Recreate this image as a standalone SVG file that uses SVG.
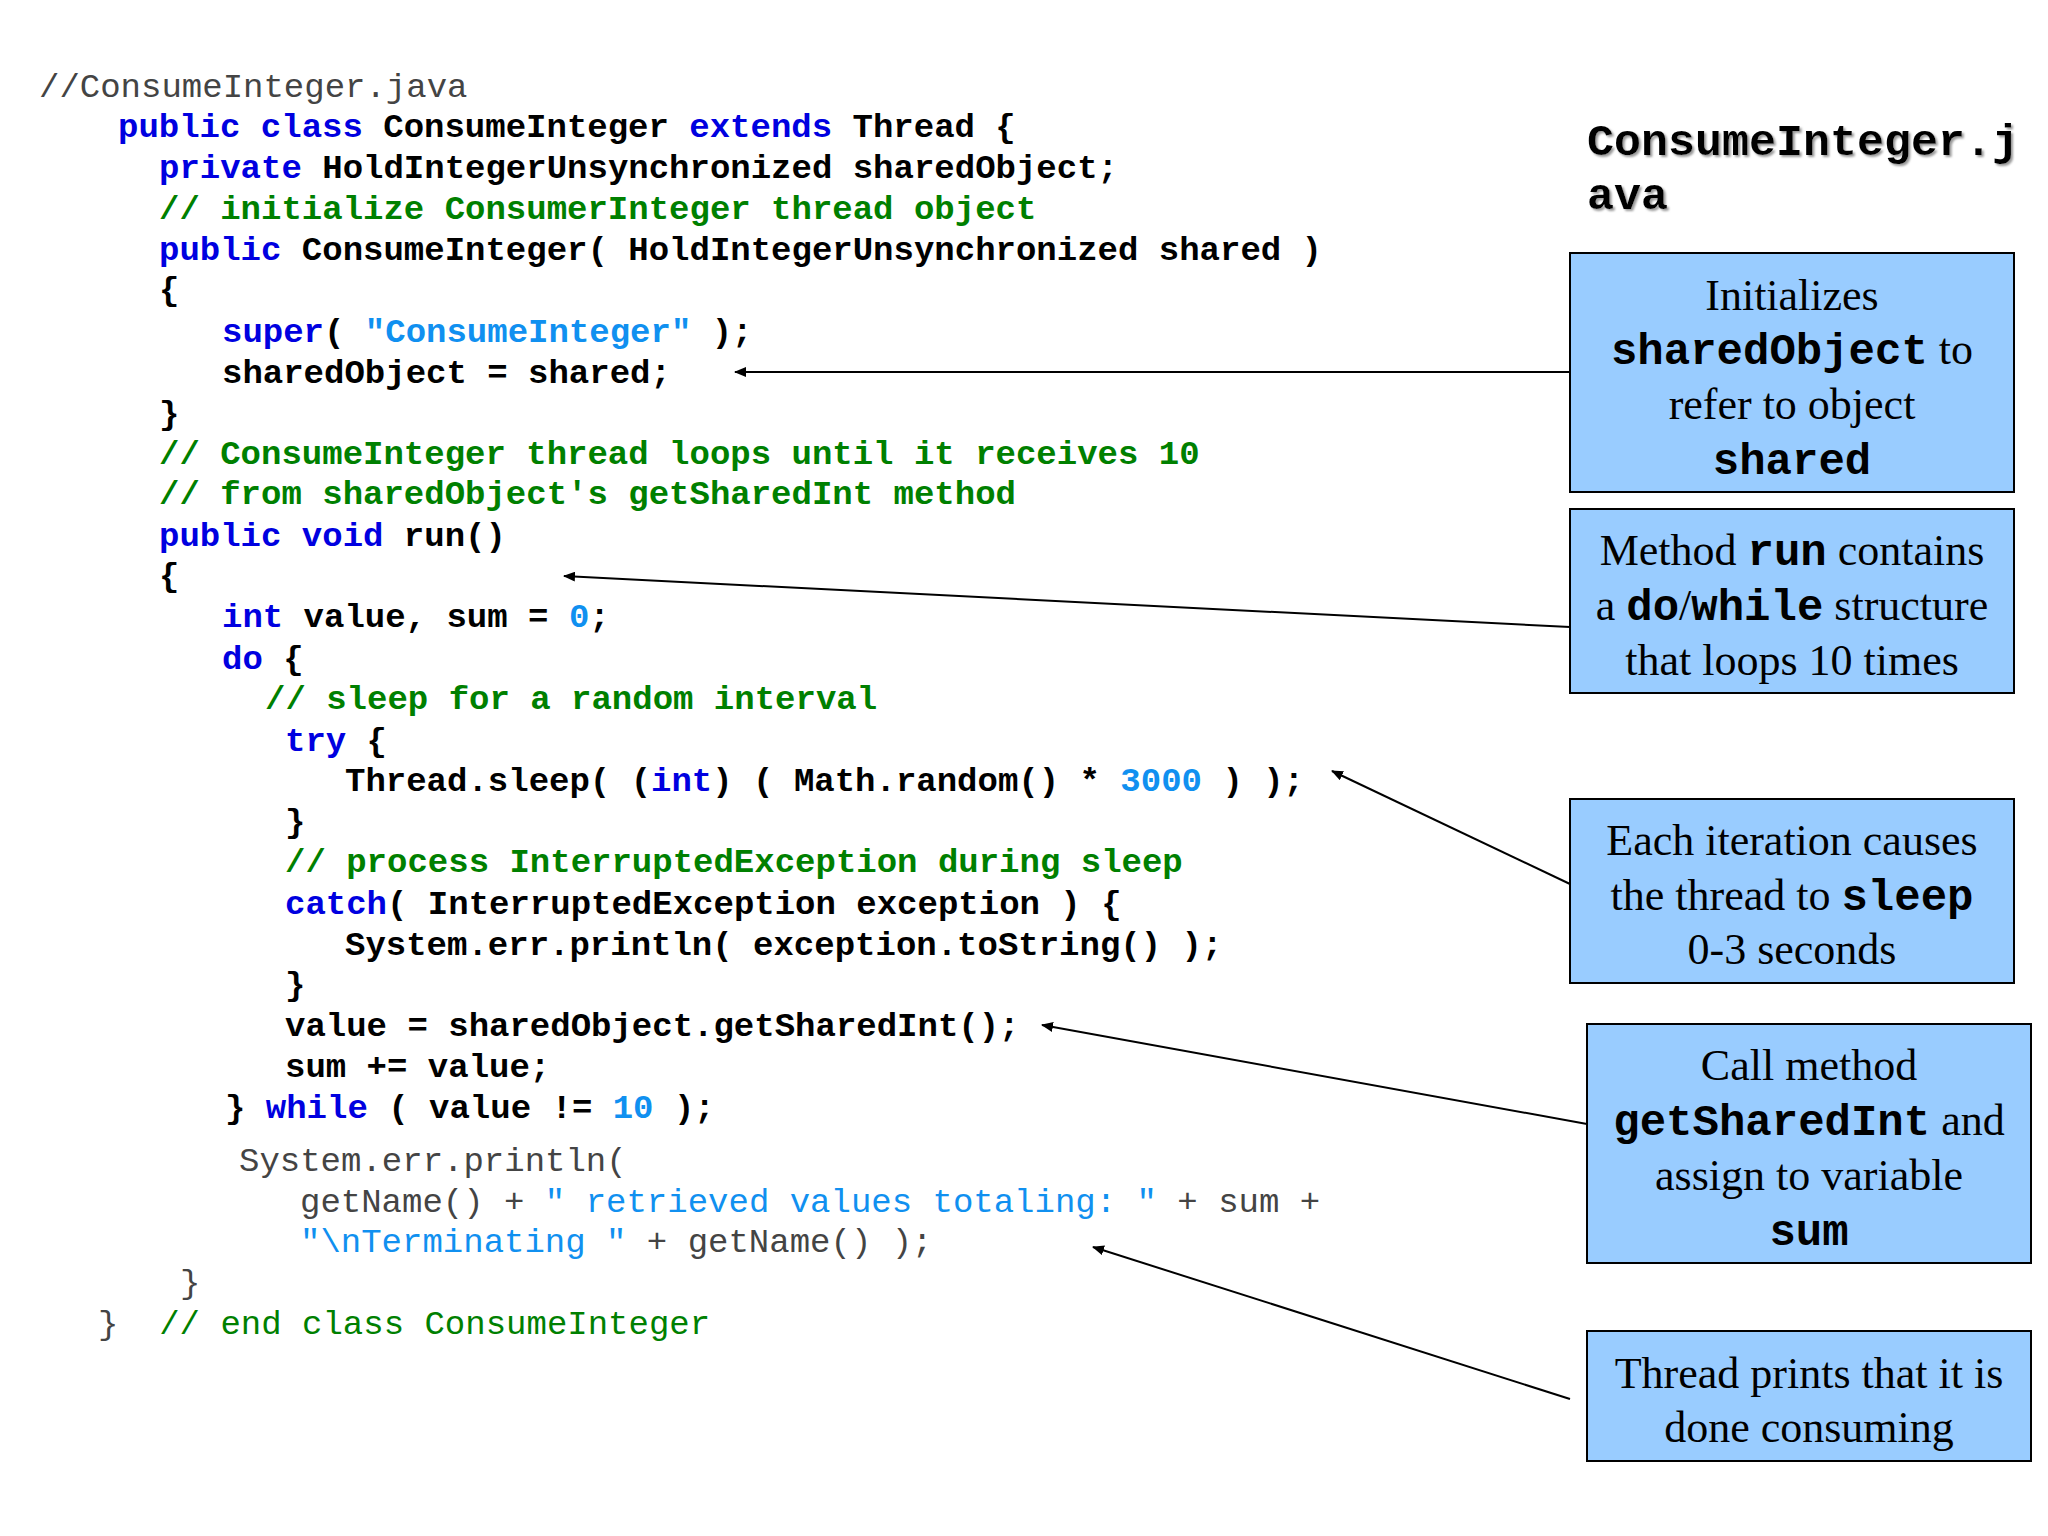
<svg xmlns="http://www.w3.org/2000/svg" width="2048" height="1536" viewBox="0 0 2048 1536">
<defs>
<marker id="ah" markerWidth="12" markerHeight="10" refX="11" refY="5" orient="auto" markerUnits="userSpaceOnUse"><path d="M0,0 L12,5 L0,10 z" fill="#000"/></marker>
<filter id="sh"><feDropShadow dx="2" dy="2" stdDeviation="1" flood-color="#999"/></filter>
</defs>
<style>
.c{font-family:"Liberation Mono",monospace;font-size:34px;font-weight:bold;fill:#000;white-space:pre}
.g{font-family:"Liberation Mono",monospace;font-size:34px;fill:#444;white-space:pre}
.k{fill:#0000e0}.m{fill:#008000}.s{fill:#1090f0}
.box{fill:#99ccff;stroke:#000;stroke-width:2}
.t{font-family:"Liberation Serif",serif;font-size:44px;fill:#000;text-anchor:middle}
.b{font-family:"Liberation Mono",monospace;font-weight:bold}
.ln{stroke:#000;stroke-width:2;fill:none;marker-end:url(#ah)}
</style>
<rect width="2048" height="1536" fill="#fff"/>
<g id="code">
<text class="g" x="39" y="97">//ConsumeInteger.java</text>
<text class="c" x="118" y="137"><tspan class="k">public class</tspan> ConsumeInteger <tspan class="k">extends</tspan> Thread {</text>
<text class="c" x="159" y="178"><tspan class="k">private</tspan> HoldIntegerUnsynchronized sharedObject;</text>
<text class="c m" x="159" y="219">// initialize ConsumerInteger thread object</text>
<text class="c" x="159" y="260"><tspan class="k">public</tspan> ConsumeInteger( HoldIntegerUnsynchronized shared )</text>
<text class="c" x="159" y="300">{</text>
<text class="c" x="222" y="342"><tspan class="k">super</tspan>( <tspan class="s">"ConsumeInteger"</tspan> );</text>
<text class="c" x="222" y="383">sharedObject = shared;</text>
<text class="c" x="159" y="424">}</text>
<text class="c m" x="159" y="464">// ConsumeInteger thread loops until it receives 10</text>
<text class="c m" x="159" y="504">// from sharedObject's getSharedInt method</text>
<text class="c" x="159" y="546"><tspan class="k">public void</tspan> run()</text>
<text class="c" x="159" y="586">{</text>
<text class="c" x="222" y="627"><tspan class="k">int</tspan> value, sum = <tspan class="s">0</tspan>;</text>
<text class="c" x="222" y="669"><tspan class="k">do</tspan> {</text>
<text class="c m" x="265" y="709">// sleep for a random interval</text>
<text class="c" x="285" y="751"><tspan class="k">try</tspan> {</text>
<text class="c" x="345" y="791">Thread.sleep( (<tspan class="k">int</tspan>) ( Math.random() * <tspan class="s">3000</tspan> ) );</text>
<text class="c" x="285" y="832">}</text>
<text class="c m" x="285" y="872">// process InterruptedException during sleep</text>
<text class="c" x="285" y="914"><tspan class="k">catch</tspan>( InterruptedException exception ) {</text>
<text class="c" x="345" y="955">System.err.println( exception.toString() );</text>
<text class="c" x="285" y="995">}</text>
<text class="c" x="285" y="1036">value = sharedObject.getSharedInt();</text>
<text class="c" x="285" y="1077">sum += value;</text>
<text class="c" x="225" y="1118">} <tspan class="k">while</tspan> ( value != <tspan class="s">10</tspan> );</text>
<text class="g" x="239" y="1171">System.err.println(</text>
<text class="g" x="300" y="1212">getName() + <tspan class="s">" retrieved values totaling: "</tspan> + sum +</text>
<text class="g" x="300" y="1252"><tspan class="s">"\nTerminating "</tspan> + getName() );</text>
<text class="g" x="180" y="1293">}</text>
<text class="g" x="98" y="1334">}  <tspan fill="#008000">// end class ConsumeInteger</tspan></text>
</g>
<g id="title" filter="url(#sh)">
<text x="1587" y="155" font-family="Liberation Mono,monospace" font-weight="bold" font-size="45">ConsumeInteger.j</text>
<text x="1587" y="209" font-family="Liberation Mono,monospace" font-weight="bold" font-size="45">ava</text>
</g>
<g id="connectors">
<line class="ln" x1="1570" y1="372" x2="735" y2="372"/>
<line class="ln" x1="1570" y1="627" x2="564" y2="576"/>
<line class="ln" x1="1570" y1="884" x2="1332" y2="771"/>
<line class="ln" x1="1587" y1="1124" x2="1042" y2="1025"/>
<line class="ln" x1="1570" y1="1399" x2="1093" y2="1247"/>
</g>
<g id="n1"><rect class="box" x="1570" y="253" width="444" height="239"/>
<text class="t" x="1792" y="310">Initializes</text>
<text class="t" x="1792" y="364"><tspan class="b">sharedObject</tspan> to</text>
<text class="t" x="1792" y="419">refer to object</text>
<text class="t" x="1792" y="474"><tspan class="b">shared</tspan></text></g>
<g id="n2"><rect class="box" x="1570" y="509" width="444" height="184"/>
<text class="t" x="1792" y="565">Method <tspan class="b">run</tspan> contains</text>
<text class="t" x="1792" y="620">a <tspan class="b">do</tspan>/<tspan class="b">while</tspan> structure</text>
<text class="t" x="1792" y="675">that loops 10 times</text></g>
<g id="n3"><rect class="box" x="1570" y="799" width="444" height="184"/>
<text class="t" x="1792" y="855">Each iteration causes</text>
<text class="t" x="1792" y="910">the thread to <tspan class="b">sleep</tspan></text>
<text class="t" x="1792" y="964">0-3 seconds</text></g>
<g id="n4"><rect class="box" x="1587" y="1024" width="444" height="239"/>
<text class="t" x="1809" y="1080">Call method</text>
<text class="t" x="1809" y="1135"><tspan class="b">getSharedInt</tspan> and</text>
<text class="t" x="1809" y="1190">assign to variable</text>
<text class="t" x="1809" y="1245"><tspan class="b">sum</tspan></text></g>
<g id="n5"><rect class="box" x="1587" y="1331" width="444" height="130"/>
<text class="t" x="1809" y="1388">Thread prints that it is</text>
<text class="t" x="1809" y="1442">done consuming</text></g>
</svg>
